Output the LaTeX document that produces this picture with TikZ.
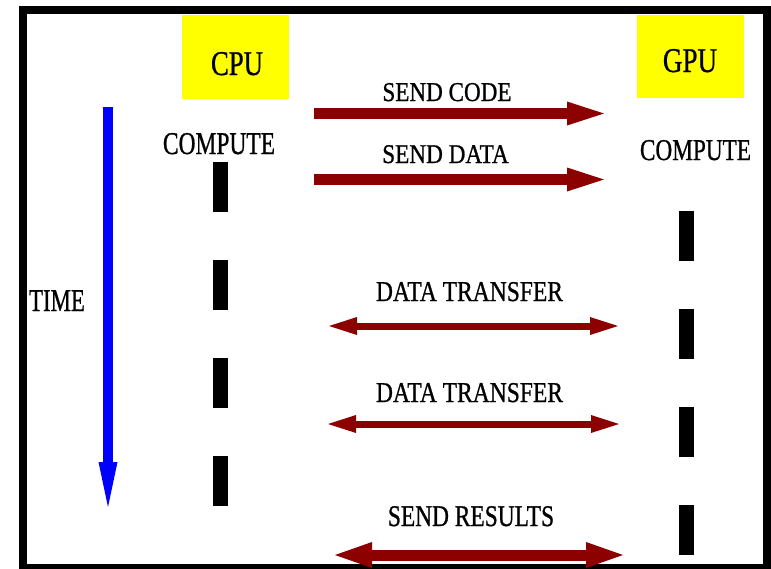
\documentclass[tikz,border=0pt]{standalone}
\usepackage{fontspec}
\setmainfont{Liberation Serif}[FakeBold=0.9]
\usepackage{graphicx}
\usetikzlibrary{arrows.meta}
\definecolor{darkred}{RGB}{140,0,0}
\definecolor{ybox}{RGB}{255,255,0}
\newcommand\sqz[3]{\fontsize{#1}{#1}\selectfont\scalebox{#2}[1]{#3}}
\tikzset{
  lbl/.style={inner sep=0pt, anchor=base, text=black},
  cpubox/.style={fill=ybox, draw=none},
  dashbar/.style={fill=black, draw=none},
  fwd/.style={draw=darkred, line width=11pt, -{Triangle[length=37pt,width=24pt,line width=0pt]}},
  both/.style={draw=darkred, line width=7pt, {Triangle[length=28pt,width=18pt,line width=0pt]}-{Triangle[length=28pt,width=18pt,line width=0pt]}},
  bigboth/.style={draw=darkred, line width=11pt, {Triangle[length=37pt,width=26pt,line width=0pt]}-{Triangle[length=37pt,width=26pt,line width=0pt]}},
  timearrow/.style={draw=blue, line width=10pt, -{Triangle[length=45pt,width=19pt,line width=0pt]}}
}
\begin{document}
\begin{tikzpicture}[x=1pt,y=-1pt]
\useasboundingbox (0,0) rectangle (771,568);
\fill[white] (0,0) rectangle (771,568);
% frame
\draw[line width=8pt] (23,10) rectangle (767,568);
% yellow boxes
\fill[cpubox] (182,15) rectangle (289,99);
\fill[cpubox] (637,15) rectangle (744,98);
\node[lbl] (cpu) at (237,75) {\sqz{34.7}{0.77}{CPU}};
\node[lbl] (gpu) at (690,72) {\sqz{34.7}{0.78}{GPU}};
% compute labels
\node[lbl] (cpucomp) at (219,154) {\sqz{31.7}{0.74}{COMPUTE}};
\node[lbl] (gpucomp) at (695.5,160) {\sqz{30.2}{0.77}{COMPUTE}};
\node[lbl] (time) at (57,311) {\sqz{31.7}{0.72}{TIME}};
% dashes CPU
\foreach \y in {162,260,358,456} \fill[dashbar] (213,\y) rectangle (228,\y+50);
% dashes GPU
\foreach \y in {211,309,407,505} \fill[dashbar] (679,\y) rectangle (694,\y+50);
% time arrow
\coordinate (t1) at (108,107);
\coordinate (t2) at (108,507);
\draw[timearrow] (t1) -- (t2);
% send code / data
\node[lbl] (sc) at (447,101) {\sqz{27.2}{0.85}{SEND CODE}};
\node[lbl] (sd) at (445.5,163) {\sqz{27}{0.86}{SEND DATA}};
\coordinate (sc1) at (314,113.5);
\coordinate (sc2) at (604,113.5);
\coordinate (sd1) at (314,179.5);
\coordinate (sd2) at (604,179.5);
\draw[fwd] (sc1) -- (sc2);
\draw[fwd] (sd1) -- (sd2);
% data transfers
\node[lbl] (dt1) at (469.5,301) {\sqz{28.7}{0.82}{DATA TRANSFER}};
\node[lbl] (dt2) at (469.5,402) {\sqz{28.7}{0.82}{DATA TRANSFER}};
\coordinate (a1) at (329,326);
\coordinate (a2) at (618,326);
\coordinate (b1) at (328,424);
\coordinate (b2) at (619,424);
\draw[both] (a1) -- (a2);
\draw[both] (b1) -- (b2);
% send results
\node[lbl] (sr) at (471,526) {\sqz{30}{0.78}{SEND RESULTS}};
\coordinate (r1) at (335,555);
\coordinate (r2) at (623,555);
\draw[bigboth] (r1) -- (r2);
\end{tikzpicture}
\end{document}
